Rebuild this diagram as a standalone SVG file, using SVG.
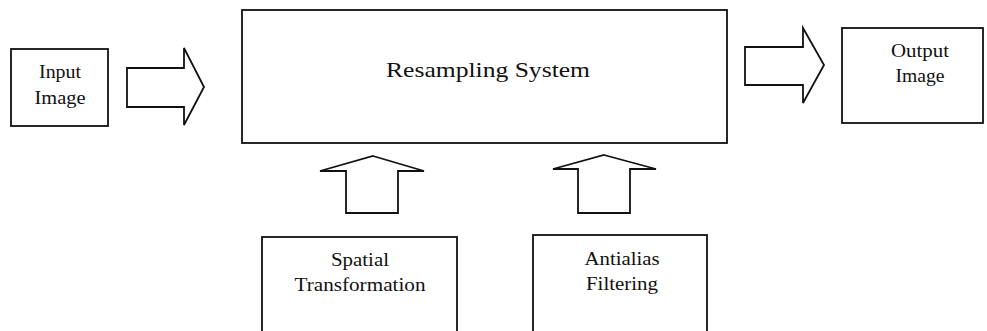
<svg xmlns="http://www.w3.org/2000/svg" width="987" height="331" viewBox="0 0 987 331">
<style>
.box{fill:#fff;stroke:#111;stroke-width:1.8}
.arrow{fill:#fff;stroke:#111;stroke-width:1.8;stroke-linejoin:miter}
.lbl{font-family:"Liberation Serif","Times New Roman",serif;font-size:19px;fill:#111;text-anchor:middle}
.big{font-size:22px}
</style>
<rect width="987" height="331" fill="#fff"/>
<g id="input-image">
<rect class="box" x="11" y="49" width="97" height="77"/>
<text class="lbl" x="60" y="78" textLength="42" lengthAdjust="spacingAndGlyphs">Input</text>
<text class="lbl" x="60" y="104" textLength="51" lengthAdjust="spacingAndGlyphs">Image</text>
</g>
<g id="resampling-system">
<rect class="box" x="242" y="10" width="485" height="133"/>
<text class="lbl big" x="488" y="77" textLength="204" lengthAdjust="spacingAndGlyphs">Resampling System</text>
</g>
<g id="output-image">
<rect class="box" x="842" y="28" width="141" height="95"/>
<text class="lbl" x="920" y="57" textLength="58" lengthAdjust="spacingAndGlyphs">Output</text>
<text class="lbl" x="920" y="82" textLength="49" lengthAdjust="spacingAndGlyphs">Image</text>
</g>
<g id="spatial-transformation">
<rect class="box" x="262" y="237" width="195" height="96"/>
<text class="lbl" x="360" y="266" textLength="58" lengthAdjust="spacingAndGlyphs">Spatial</text>
<text class="lbl" x="360" y="291" textLength="131" lengthAdjust="spacingAndGlyphs">Transformation</text>
</g>
<g id="antialias-filtering">
<rect class="box" x="533" y="235" width="174" height="98"/>
<text class="lbl" x="622" y="265" textLength="75" lengthAdjust="spacingAndGlyphs">Antialias</text>
<text class="lbl" x="622" y="290" textLength="72" lengthAdjust="spacingAndGlyphs">Filtering</text>
</g>
<g id="connectors">
<polygon class="arrow" points="127,68 184,68 184,48 204,87 184,125 184,107 127,107"/>
<polygon class="arrow" points="745,47 803,47 803,28 824,65 803,103 803,85 745,85"/>
<polygon class="arrow" points="373,156 424,171 398,171 398,213 346,213 346,171 320,171"/>
<polygon class="arrow" points="604,155 656,169 630,169 630,213 578,213 578,169 553,169"/>
</g>
</svg>
